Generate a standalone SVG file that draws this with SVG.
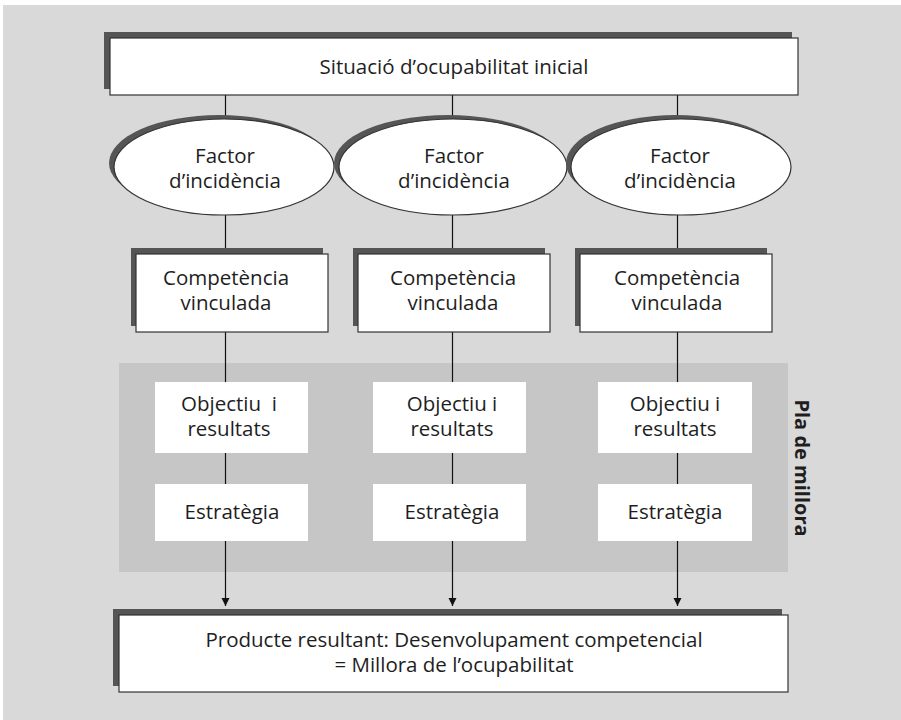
<svg xmlns="http://www.w3.org/2000/svg" width="901" height="720" viewBox="0 0 901 720">
<defs>
<style>
.t{font-family:"Open Sans","Noto Sans","Liberation Sans",sans-serif;font-size:20.5px;fill:#1e1e1e;text-anchor:middle}
.b{fill:#fff;stroke:#333;stroke-width:1.2}
.sh{fill:#555}
.w{fill:#fff}
.ln{stroke:#111;stroke-width:1.2;fill:none}
</style>
<marker id="ah" markerWidth="10" markerHeight="10" refX="8" refY="4" orient="auto" markerUnits="userSpaceOnUse">
<path d="M0,0 L8,4 L0,8 Z" fill="#111"/>
</marker>
</defs>
<rect x="3" y="5" width="898" height="715" fill="#d9d9d9"/>
<rect id="pla-panel" x="119" y="363" width="669" height="209" fill="#c6c6c6"/>

<g id="connectors">
<line class="ln" x1="225.5" y1="95" x2="225.5" y2="119"/>
<line class="ln" x1="452.5" y1="95" x2="452.5" y2="119"/>
<line class="ln" x1="677.5" y1="95" x2="677.5" y2="119"/>
<line class="ln" x1="225.5" y1="215" x2="225.5" y2="254"/>
<line class="ln" x1="452.5" y1="215" x2="452.5" y2="254"/>
<line class="ln" x1="677.5" y1="215" x2="677.5" y2="254"/>
<line class="ln" x1="225.5" y1="332" x2="225.5" y2="382"/>
<line class="ln" x1="452.5" y1="332" x2="452.5" y2="382"/>
<line class="ln" x1="677.5" y1="332" x2="677.5" y2="382"/>
<line class="ln" x1="225.5" y1="453" x2="225.5" y2="484"/>
<line class="ln" x1="452.5" y1="453" x2="452.5" y2="484"/>
<line class="ln" x1="677.5" y1="453" x2="677.5" y2="484"/>
<line class="ln" x1="225.5" y1="541" x2="225.5" y2="606" marker-end="url(#ah)"/>
<line class="ln" x1="452.5" y1="541" x2="452.5" y2="606" marker-end="url(#ah)"/>
<line class="ln" x1="677.5" y1="541" x2="677.5" y2="606" marker-end="url(#ah)"/>
</g>

<g id="situacio">
<rect class="sh" x="104" y="32" width="688" height="57"/>
<rect class="b" x="110" y="38" width="688" height="57"/>
<text class="t" x="454" y="74">Situació d’ocupabilitat inicial</text>
</g>

<g id="factor1">
<ellipse class="sh" cx="219" cy="163" rx="110" ry="48"/>
<ellipse class="b" cx="224" cy="167" rx="110" ry="48"/>
<text class="t" x="225" y="163">Factor<tspan x="225" dy="25">d’incidència</tspan></text>
</g>
<g id="factor2">
<ellipse class="sh" cx="448" cy="163" rx="114" ry="48"/>
<ellipse class="b" cx="453" cy="167" rx="114" ry="48"/>
<text class="t" x="454" y="163">Factor<tspan x="454" dy="25">d’incidència</tspan></text>
</g>
<g id="factor3">
<ellipse class="sh" cx="676" cy="163" rx="110" ry="48"/>
<ellipse class="b" cx="681" cy="167" rx="110" ry="48"/>
<text class="t" x="680" y="163">Factor<tspan x="680" dy="25">d’incidència</tspan></text>
</g>

<g id="competencia1">
<rect class="sh" x="131" y="248" width="192" height="78"/>
<rect class="b" x="136" y="254" width="192" height="78"/>
<text class="t" x="226" y="285">Competència<tspan x="226" dy="25">vinculada</tspan></text>
</g>
<g id="competencia2">
<rect class="sh" x="353" y="248" width="192" height="78"/>
<rect class="b" x="358" y="254" width="192" height="78"/>
<text class="t" x="453" y="285">Competència<tspan x="453" dy="25">vinculada</tspan></text>
</g>
<g id="competencia3">
<rect class="sh" x="575" y="248" width="192" height="78"/>
<rect class="b" x="580" y="254" width="192" height="78"/>
<text class="t" x="677" y="285">Competència<tspan x="677" dy="25">vinculada</tspan></text>
</g>

<g id="objectiu1">
<rect class="w" x="155" y="382" width="153" height="71"/>
<text class="t" x="229" y="411" style="white-space:pre">Objectiu  i<tspan x="229" dy="25">resultats</tspan></text>
</g>
<g id="objectiu2">
<rect class="w" x="373" y="382" width="153" height="71"/>
<text class="t" x="452" y="411">Objectiu i<tspan x="452" dy="25">resultats</tspan></text>
</g>
<g id="objectiu3">
<rect class="w" x="598" y="382" width="154" height="71"/>
<text class="t" x="675" y="411">Objectiu i<tspan x="675" dy="25">resultats</tspan></text>
</g>

<g id="estrategia1">
<rect class="w" x="155" y="484" width="153" height="57"/>
<text class="t" x="232" y="519">Estratègia</text>
</g>
<g id="estrategia2">
<rect class="w" x="373" y="484" width="153" height="57"/>
<text class="t" x="452" y="519">Estratègia</text>
</g>
<g id="estrategia3">
<rect class="w" x="598" y="484" width="154" height="57"/>
<text class="t" x="675" y="519">Estratègia</text>
</g>

<g id="pla-label">
<text class="t" x="0" y="0" transform="translate(795,468) rotate(90)" style="font-weight:bold;font-size:20px">Pla de millora</text>
</g>

<g id="producte">
<rect class="sh" x="113" y="609" width="669" height="77"/>
<rect class="b" x="119" y="615" width="669" height="77"/>
<text class="t" x="454" y="647">Producte resultant: Desenvolupament competencial<tspan x="454" dy="25">= Millora de l’ocupabilitat</tspan></text>
</g>
</svg>
